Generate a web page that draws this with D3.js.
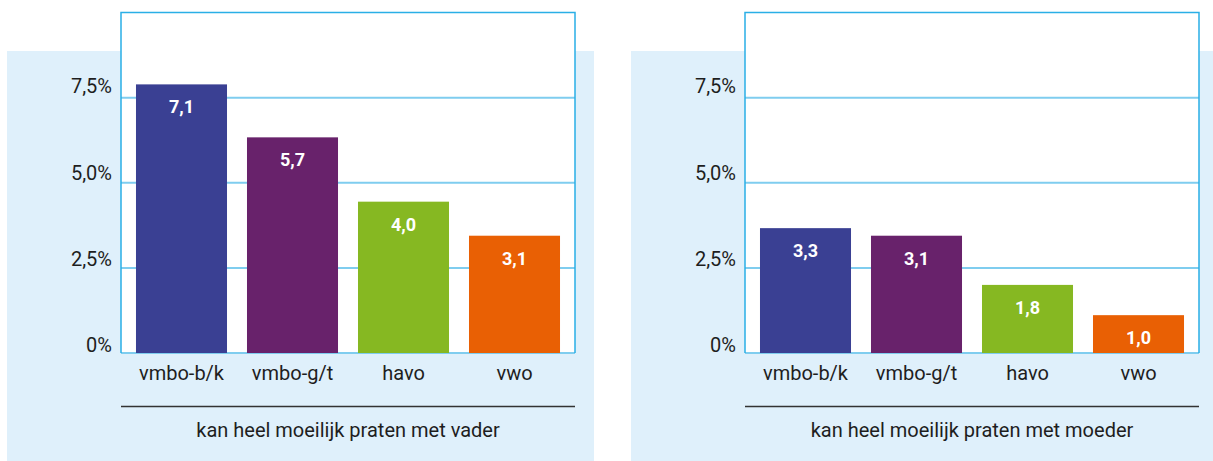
<!DOCTYPE html>
<html>
<head>
<meta charset="utf-8">
<script src="https://cdn.jsdelivr.net/npm/d3@7"></script>
<style>
  html, body { margin: 0; padding: 0; background: #ffffff; }
  svg { display: block; }
  text { font-family: Roboto, "Liberation Sans", sans-serif; }
</style>
</head>
<body>
<svg id="chart" width="1213" height="461"></svg>
<script>
// ---- data ----
const categories = ["vmbo-b/k", "vmbo-g/t", "havo", "vwo"];
const vaderValues = [7.1, 5.7, 4.0, 3.1];
const moederValues = [3.3, 3.1, 1.8, 1.0];
const barColors = ["#3a4093", "#68226b", "#86b822", "#e96004"];
// gridline positions as drawn in the picture, and their printed labels
const tickPositions = [0, 2.25, 4.5, 6.75];
const tickLabels = ["0%", "2,5%", "5,0%", "7,5%"];
const panelTitles = ["kan heel moeilijk praten met vader", "kan heel moeilijk praten met moeder"];
const panelSeries = [vaderValues, moederValues];

// ---- layout ----
const svg = d3.select("#chart");
const panelOffset = 624;
const bgX = 7, bgY = 51, bgW = 587, bgH = 420;
const plotL = 121, plotR = 575, plotT = 12.5, plotB = 353;

const y = d3.scaleLinear().domain([0, 9]).range([plotB, plotT]);
const x = d3.scaleBand().domain(categories).range([plotL, plotR])
  .paddingInner(0.18).paddingOuter(0.135);
const fmt = v => d3.format(".1f")(v).replace(".", ",");

panelSeries.forEach((values, p) => {
  const g = svg.append("g").attr("transform", `translate(${p * panelOffset},0)`);

  // light blue background
  g.append("rect").attr("x", bgX).attr("y", bgY).attr("width", bgW + (p === 1 ? 20 : 0)).attr("height", bgH)
    .attr("fill", "#dff0fb");

  // white plot area
  g.append("rect").attr("x", plotL).attr("y", plotT).attr("width", plotR - plotL).attr("height", plotB - plotT)
    .attr("fill", "#ffffff");

  // gridlines
  g.selectAll("line.grid").data(tickPositions).join("line")
    .attr("class", "grid")
    .attr("x1", plotL).attr("x2", plotR)
    .attr("y1", d => y(d)).attr("y2", d => y(d))
    .attr("stroke", "#7fcdef").attr("stroke-width", 2);

  // frame (top, left, right)
  g.append("path")
    .attr("d", `M${plotL},${plotB} V${plotT} H${plotR} V${plotB}`)
    .attr("fill", "none").attr("stroke", "#2aafe6").attr("stroke-width", 1.5);

  // tick labels
  g.selectAll("text.tick").data(tickPositions).join("text")
    .attr("class", "tick")
    .attr("x", plotL - 9)
    .attr("y", (d, i) => y(d) - 0.6 - i * 1.3)
    .attr("text-anchor", "end")
    .attr("font-size", 20)
    .attr("fill", "#1e1e1e")
    .text((d, i) => tickLabels[i]);

  // bars
  g.selectAll("rect.bar").data(values).join("rect")
    .attr("class", "bar")
    .attr("x", (d, i) => x(categories[i]))
    .attr("width", x.bandwidth())
    .attr("y", d => y(d))
    .attr("height", d => y(0) - y(d))
    .attr("fill", (d, i) => barColors[i]);

  // value labels
  g.selectAll("text.val").data(values).join("text")
    .attr("class", "val")
    .attr("x", (d, i) => x(categories[i]) + x.bandwidth() / 2)
    .attr("y", d => y(d) + 29)
    .attr("text-anchor", "middle")
    .attr("font-size", 18)
    .attr("font-weight", "bold")
    .attr("fill", "#ffffff")
    .text(d => fmt(d));

  // category labels
  g.selectAll("text.cat").data(categories).join("text")
    .attr("class", "cat")
    .attr("x", d => x(d) + x.bandwidth() / 2)
    .attr("y", plotB + 26.5)
    .attr("text-anchor", "middle")
    .attr("font-size", 20)
    .attr("fill", "#1e1e1e")
    .text(d => d);

  // separator line
  g.append("line")
    .attr("x1", plotL).attr("x2", plotR)
    .attr("y1", 406.5).attr("y2", 406.5)
    .attr("stroke", "#333").attr("stroke-width", 1.5);

  // panel title
  g.append("text")
    .attr("x", (plotL + plotR) / 2)
    .attr("y", 437)
    .attr("text-anchor", "middle")
    .attr("font-size", 20)
    .attr("fill", "#1e1e1e")
    .text(panelTitles[p]);
});
</script>
</body>
</html>
